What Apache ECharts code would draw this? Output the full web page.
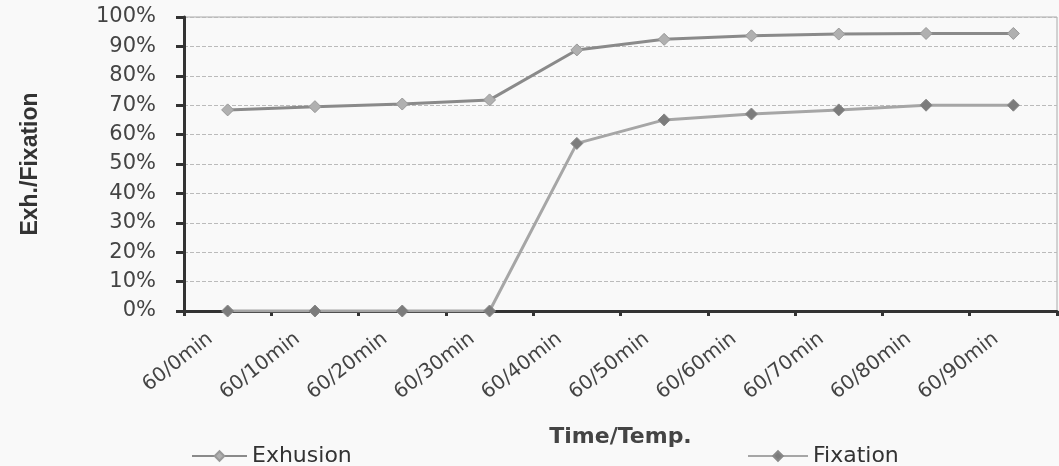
<!DOCTYPE html>
<html><head><meta charset="utf-8">
<script src="https://cdn.jsdelivr.net/npm/echarts@6/dist/echarts.min.js"></script>
<style>html,body{margin:0;padding:0;background:#f9f9f9}#c{width:1059px;height:466px}</style>
</head><body><div id="c"></div>
<script>
const categories = ['60/0min','60/10min','60/20min','60/30min','60/40min','60/50min','60/60min','60/70min','60/80min','60/90min'];
const exhusion = [68.4, 69.5, 70.4, 71.8, 88.8, 92.4, 93.6, 94.2, 94.4, 94.4];
const fixation = [0, 0, 0, 0, 57, 65, 67, 68.4, 70, 70];
const yTicks = [0, 10, 20, 30, 40, 50, 60, 70, 80, 90, 100];

const chart = echarts.init(document.getElementById('c'));
const font = 'DejaVu Sans, Verdana, sans-serif';
chart.setOption({
  backgroundColor: '#f9f9f9',
  animation: false,
  grid: {left: 184, right: 2, top: 17, bottom: 155, show: true, borderColor: '#aaa', borderWidth: 1, backgroundColor: 'transparent'},
  legend: [
    {data: ['Exhusion'], left: 186, top: 440, itemWidth: 55, itemHeight: 12, itemGap: 6,
     textStyle: {fontFamily: font, fontSize: 22, color: '#333'}},
    {data: ['Fixation'], left: 742, top: 440, itemWidth: 60, itemHeight: 12, itemGap: 6,
     textStyle: {fontFamily: font, fontSize: 22, color: '#333'}}
  ],
  xAxis: {
    type: 'category', data: categories, boundaryGap: true,
    name: 'Time/Temp.', nameLocation: 'middle', nameGap: 115,
    nameTextStyle: {fontFamily: font, fontSize: 22, fontWeight: 'bold', color: '#444'},
    axisLine: {lineStyle: {color: '#333', width: 3}},
    axisTick: {show: true, length: 5, lineStyle: {color: '#333', width: 3}},
    axisLabel: {rotate: 38, fontFamily: font, fontSize: 20, color: '#444', margin: 12, padding: [0, 22, 0, 0]}
  },
  yAxis: {
    type: 'value', min: 0, max: 100, interval: 10,
    name: 'Exh./Fixation', nameLocation: 'middle', nameGap: 142,
    nameTextStyle: {fontFamily: 'Liberation Sans Narrow, Arial Narrow, sans-serif', fontSize: 23, fontWeight: 'bold', color: '#333'},
    axisLine: {show: true, lineStyle: {color: '#333', width: 3}},
    axisTick: {show: true, length: 8, lineStyle: {color: '#333', width: 3}},
    axisLabel: {fontFamily: font, fontSize: 21, color: '#444', margin: 28,
      formatter: v => yTicks.includes(v) ? v + '%' : ''},
    splitLine: {show: true, lineStyle: {color: '#bbb', type: 'dashed', width: 1}}
  },
  series: [
    {name: 'Exhusion', type: 'line', data: exhusion, symbol: 'diamond', symbolSize: 12,
     lineStyle: {color: '#8a8a8a', width: 3}, itemStyle: {color: '#b0b0b0', borderColor: '#999', borderWidth: 1}},
    {name: 'Fixation', type: 'line', data: fixation, symbol: 'diamond', symbolSize: 12,
     lineStyle: {color: '#a6a6a6', width: 3}, itemStyle: {color: '#7c7c7c', borderColor: '#888', borderWidth: 1}}
  ]
});
</script></body></html>
